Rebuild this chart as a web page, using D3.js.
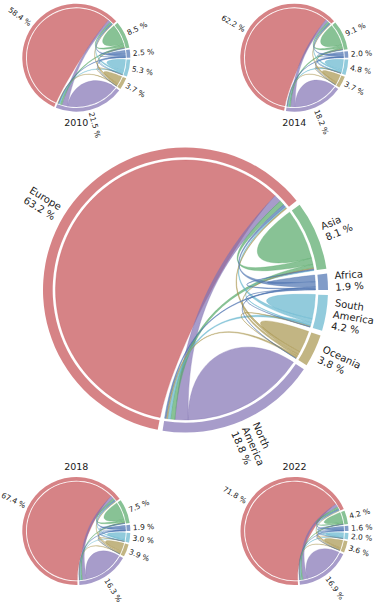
<!DOCTYPE html>
<html>
<head>
<meta charset="utf-8">
<script src="https://cdn.jsdelivr.net/npm/d3@7"></script>
<style>
  html, body { margin: 0; padding: 0; background: #ffffff; }
  svg { display: block; }
  text { font-family: "DejaVu Sans", sans-serif; fill: #1a1a1a; }
</style>
</head>
<body>
<script>
// ---------------- data ----------------
const regions = ["Africa", "Asia", "Europe", "North America", "Oceania", "South America"];
const regionLabels = ["Africa", "Asia", "Europe", "North\nAmerica", "Oceania", "South\nAmerica"];
const regionColors = ["#4C72B0", "#55A868", "#C44E52", "#8172B3", "#A8964E", "#64B5CD"];
// chord colour priority (a chord takes the colour of the region ranked later here)
const colorRank = [5, 2, 0, 1, 4, 3];

// shares (%) shown on the arcs
const shareAll  = [1.9, 8.1, 63.2, 18.8, 3.8, 4.2];
const share2010 = [2.5, 8.5, 58.4, 21.5, 3.7, 5.3];
const share2014 = [2.0, 9.1, 62.2, 18.2, 3.7, 4.8];
const share2018 = [1.9, 7.5, 67.4, 16.3, 3.9, 3.0];
const share2022 = [1.6, 4.2, 71.8, 16.9, 3.6, 2.0];

// flow matrices (rows: from, cols: to), same order as regions
const flowsAll = [
  [0.85, 0.15, 0.61, 0.19, 0.05, 0.05],
  [0.12, 6.48, 0.81, 0.49, 0.12, 0.08],
  [0.32, 0.63, 60.99, 0.95, 0.13, 0.18],
  [0.19, 0.56, 1.69, 15.79, 0.19, 0.38],
  [0.04, 0.27, 0.38, 0.23, 2.80, 0.08],
  [0.04, 0.13, 0.50, 0.34, 0.08, 3.11]
];
const flows2010 = [
  [1.12, 0.20, 0.80, 0.25, 0.06, 0.07],
  [0.13, 6.80, 0.85, 0.51, 0.13, 0.08],
  [0.29, 0.58, 56.36, 0.88, 0.12, 0.17],
  [0.22, 0.65, 1.94, 18.05, 0.21, 0.43],
  [0.04, 0.26, 0.37, 0.22, 2.73, 0.08],
  [0.05, 0.16, 0.64, 0.42, 0.11, 3.92]
];
const flows2014 = [
  [0.90, 0.16, 0.64, 0.20, 0.05, 0.05],
  [0.14, 7.28, 0.91, 0.55, 0.14, 0.08],
  [0.31, 0.62, 60.03, 0.93, 0.12, 0.19],
  [0.18, 0.55, 1.64, 15.29, 0.18, 0.36],
  [0.04, 0.26, 0.37, 0.22, 2.73, 0.08],
  [0.05, 0.14, 0.58, 0.38, 0.10, 3.55]
];
const flows2018 = [
  [0.85, 0.15, 0.61, 0.19, 0.05, 0.05],
  [0.11, 6.00, 0.75, 0.45, 0.11, 0.08],
  [0.34, 0.67, 65.04, 1.01, 0.13, 0.21],
  [0.16, 0.49, 1.47, 13.69, 0.16, 0.33],
  [0.04, 0.27, 0.39, 0.23, 2.89, 0.08],
  [0.03, 0.09, 0.36, 0.24, 0.06, 2.22]
];
const flows2022 = [
  [0.72, 0.13, 0.51, 0.16, 0.04, 0.04],
  [0.06, 3.36, 0.42, 0.25, 0.07, 0.04],
  [0.36, 0.72, 69.29, 1.08, 0.14, 0.21],
  [0.17, 0.51, 1.52, 14.19, 0.17, 0.34],
  [0.04, 0.25, 0.36, 0.22, 2.66, 0.07],
  [0.02, 0.06, 0.24, 0.16, 0.04, 1.48]
];

const years = ["2010", "2014", "2018", "2022"];

// ---------------- drawing ----------------
const W = 379, H = 608;
const svg = d3.select("body").append("svg").attr("width", W).attr("height", H);

const PAD = 2, WIDTH = 0.068, GAP = 0.02, CHORDW = 0.7, ALPHA = 0.7;
const rad = d => d * Math.PI / 180;

function drawPanel(p) {
  const g = svg.append("g").attr("transform", `translate(${p.cx},${p.cy})`);
  const n = p.share.length;
  const deg = d3.scaleLinear().domain([0, d3.sum(p.share)]).range([0, 360 - n * PAD]);
  const P = (r, a) => [r * Math.cos(rad(a)), -r * Math.sin(rad(a))];
  const R = p.R;
  const rc = R * (1 - WIDTH - GAP);
  const rch = rc * (1 - CHORDW);
  const rself = rc * (1 - 0.7 * CHORDW);

  const arcs = [], pos = {};
  let start = 0;
  for (let i = 0; i < n; i++) {
    const end = start + deg(p.share[i]);
    arcs.push([start, end]);
    const rowSum = d3.sum(p.flows[i]);
    const z = p.flows[i].map(v => v / rowSum * (end - start));
    const ids = d3.range(n).sort((a, b) => z[a] - z[b]);
    let z0 = start;
    for (const j of ids) { pos[i + "," + j] = [z0, z0 + z[j]]; z0 += z[j]; }
    start = end + PAD;
  }

  const ring = d3.arc().innerRadius(R * (1 - WIDTH)).outerRadius(R);
  const style = (sel, c) => sel.attr("fill", c).attr("fill-opacity", ALPHA)
      .attr("stroke", c).attr("stroke-opacity", ALPHA).attr("stroke-width", p.big ? 0.5 : 0.35);

  const order = d3.range(n).sort((a, b) => colorRank[a] - colorRank[b]);
  // rings
  for (let i = 0; i < n; i++) {
    g.append("path")
      .attr("d", ring({ startAngle: rad(90 - arcs[i][1]), endAngle: rad(90 - arcs[i][0]) }))
      .attr("fill", regionColors[i]).attr("fill-opacity", ALPHA);
  }
  for (const i of order) {
    const c = regionColors[i];
    // self chord
    const [s, e] = pos[i + "," + i];
    if (p.flows[i][i] > 0) {
      const pt = d3.path();
      pt.moveTo(...P(rc, s));
      pt.arc(0, 0, rc, -rad(s), -rad(e), true);
      pt.bezierCurveTo(...P(rself, e), ...P(rself, s), ...P(rc, s));
      pt.closePath();
      style(g.append("path").attr("d", pt.toString()), c);
    }
    // chords to regions ranked before i, coloured by i
    for (const j of order) {
      if (colorRank[j] >= colorRank[i]) continue;
      if (!(p.flows[i][j] > 0 || p.flows[j][i] > 0)) continue;
      const [s1, e1] = pos[i + "," + j];
      const [s2, e2] = pos[j + "," + i];
      const pt = d3.path();
      pt.moveTo(...P(rc, s1));
      pt.arc(0, 0, rc, -rad(s1), -rad(e1), true);
      pt.bezierCurveTo(...P(rch, e1), ...P(rch, s2), ...P(rc, s2));
      pt.arc(0, 0, rc, -rad(s2), -rad(e2), true);
      pt.bezierCurveTo(...P(rch, e2), ...P(rch, s1), ...P(rc, s1));
      pt.closePath();
      style(g.append("path").attr("d", pt.toString()), c);
    }
  }

  // labels
  const fs = p.big ? 10 : 7.5;
  for (let i = 0; i < n; i++) {
    const mid = (arcs[i][0] + arcs[i][1]) / 2;
    const [lx, ly] = P(1.05 * R, mid);
    let rot, anchor;
    if (mid > 90 && mid < 270) { rot = -(mid - 180); anchor = "end"; }
    else { const m = mid > 270 ? mid - 360 : mid; rot = -m; anchor = "start"; }
    const txt = p.share[i].toFixed(1) + " %";
    const lines = p.big ? regionLabels[i].split("\n").concat([txt]) : [txt];
    const t = g.append("g").attr("transform", `translate(${lx},${ly}) rotate(${rot})`)
      .append("text").attr("text-anchor", anchor).attr("font-size", fs);
    lines.forEach((l, k) => {
      t.append("tspan").attr("x", 0).attr("y", (k - (lines.length - 1) / 2) * fs * 1.17)
        .attr("dominant-baseline", "central").text(l);
    });
  }

  if (p.title) {
    g.append("text").attr("x", 0).attr("y", p.titleDy).attr("text-anchor", "middle")
      .attr("dominant-baseline", "central").attr("font-size", 9.5).text(p.title);
  }
}

const panels = [
  { title: years[0], share: share2010, flows: flows2010, cx: 76.3, cy: 57.7, R: 54, titleDy: 64.5 },
  { title: years[1], share: share2014, flows: flows2014, cx: 294.3, cy: 57.7, R: 54, titleDy: 64.5 },
  { title: null, share: shareAll, flows: flowsAll, cx: 185.5, cy: 290, R: 142.5, big: true },
  { title: years[2], share: share2018, flows: flows2018, cx: 76.3, cy: 531, R: 54, titleDy: -65 },
  { title: years[3], share: share2022, flows: flows2022, cx: 294.5, cy: 531, R: 54, titleDy: -65 }
];
panels.forEach(drawPanel);
</script>
</body>
</html>
